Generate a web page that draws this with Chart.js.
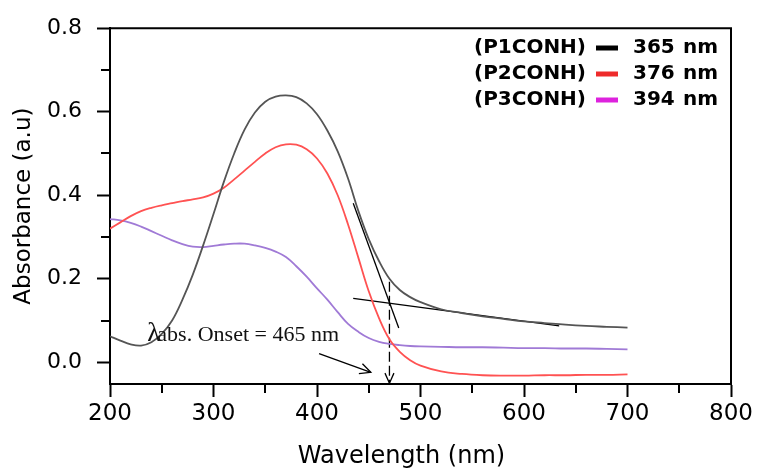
<!DOCTYPE html>
<html>
<head>
<meta charset="utf-8">
<script src="https://cdn.jsdelivr.net/npm/chart.js@4.4.1/dist/chart.umd.min.js"></script>
<style>
  html, body { margin: 0; padding: 0; background: #fff; }
  #c { display: block; }
</style>
</head>
<body>
<canvas id="c" width="758" height="468"></canvas>
<script>
// ---- data ----
const wavelengths = [200,210,220,230,240,250,260,270,280,290,300,310,320,330,340,350,360,370,380,390,400,410,420,430,440,450,460,470,480,490,500,520,540,560,580,600,620,640,660,680,700];
const p1conh = [0.062,0.052,0.043,0.040,0.048,0.068,0.100,0.150,0.210,0.280,0.355,0.432,0.500,0.557,0.598,0.624,0.636,0.639,0.635,0.620,0.594,0.555,0.505,0.440,0.362,0.295,0.242,0.200,0.173,0.156,0.144,0.127,0.118,0.110,0.104,0.098,0.094,0.090,0.087,0.085,0.083];
const p2conh = [0.320,0.335,0.350,0.362,0.370,0.376,0.381,0.386,0.390,0.395,0.404,0.418,0.438,0.459,0.480,0.500,0.515,0.522,0.521,0.510,0.488,0.452,0.400,0.330,0.250,0.170,0.105,0.055,0.025,0.005,-0.008,-0.022,-0.028,-0.031,-0.032,-0.032,-0.031,-0.031,-0.030,-0.030,-0.029];
const p3conh = [0.343,0.340,0.334,0.325,0.314,0.303,0.292,0.283,0.277,0.276,0.279,0.282,0.284,0.284,0.280,0.274,0.265,0.252,0.230,0.205,0.177,0.150,0.120,0.092,0.073,0.058,0.049,0.044,0.041,0.039,0.038,0.037,0.036,0.036,0.035,0.034,0.034,0.033,0.033,0.032,0.031];

const seriesNames = ['(P1CONH)', '(P2CONH)', '(P3CONH)'];
const peakLabels = ['365', '376', '394'];
const xTickValues = [200,300,400,500,600,700,800];
const xMinorValues = [250,350,450,550,650,750];
const yTickValues = [0.0,0.2,0.4,0.6,0.8];
const yMinorValues = [0.1,0.3,0.5,0.7];
const xTitle = 'Wavelength (nm)';
const yTitle = 'Absorbance (a.u)';

// onset construction (data units)
const tangentSteep = [{x:435,y:0.381},{x:479,y:0.082}];
const tangentBase  = [{x:435,y:0.153},{x:634,y:0.087}];
const onsetDrop    = [{x:470,y:0.193},{x:470,y:-0.05}];
const textArrow    = [{x:402,y:0.021},{x:452,y:-0.024}];
const onsetLabelPos = {x:236, y:0.052};
const onsetLabel = 'abs. Onset = 465 nm';

// ---- chart ----
const toXY = (xs, ys) => xs.map((x, i) => ({x, y: ys[i]}));

Chart.defaults.font.family = 'DejaVu Sans';
Chart.defaults.color = '#000';

const bgPlugin = {
  id: 'bg',
  beforeDraw(chart) {
    const ctx = chart.ctx;
    ctx.save();
    ctx.fillStyle = '#fff';
    ctx.fillRect(0, 0, chart.width, chart.height);
    ctx.restore();
  }
};

function arrowHead(ctx, tipX, tipY, fromX, fromY, len, spread) {
  const a = Math.atan2(tipY - fromY, tipX - fromX);
  ctx.beginPath();
  ctx.moveTo(tipX - len * Math.cos(a - spread), tipY - len * Math.sin(a - spread));
  ctx.lineTo(tipX, tipY);
  ctx.lineTo(tipX - len * Math.cos(a + spread), tipY - len * Math.sin(a + spread));
  ctx.stroke();
}

const decoPlugin = {
  id: 'deco',
  afterDraw(chart) {
    const {ctx, chartArea: ca, scales: {x, y}} = chart;
    ctx.save();
    ctx.strokeStyle = '#000';
    ctx.lineWidth = 2;
    // top and right frame
    ctx.beginPath();
    ctx.moveTo(ca.left, ca.top);
    ctx.lineTo(ca.right + 1, ca.top);
    ctx.moveTo(ca.right, ca.top);
    ctx.lineTo(ca.right, ca.bottom);
    ctx.stroke();
    // minor ticks
    ctx.beginPath();
    xMinorValues.forEach(v => {
      const px = Math.round(x.getPixelForValue(v));
      ctx.moveTo(px, ca.bottom);
      ctx.lineTo(px, ca.bottom + 9);
    });
    yMinorValues.forEach(v => {
      const py = Math.round(y.getPixelForValue(v));
      ctx.moveTo(ca.left, py);
      ctx.lineTo(ca.left - 9, py);
    });
    ctx.stroke();

    // x axis title (sits a little left of centre in the reference)
    ctx.fillStyle = '#000';
    ctx.font = '24px "DejaVu Sans"';
    ctx.textAlign = 'center';
    ctx.textBaseline = 'alphabetic';
    ctx.fillText(xTitle, (ca.left + ca.right) / 2 - 19, 463);

    // arrow heads
    ctx.lineWidth = 1.3;
    const dTip = onsetDrop[1], dFrom = onsetDrop[0];
    arrowHead(ctx, x.getPixelForValue(dTip.x), y.getPixelForValue(dTip.y),
              x.getPixelForValue(dFrom.x), y.getPixelForValue(dFrom.y), 11, 0.42);
    const aTip = textArrow[1], aFrom = textArrow[0];
    arrowHead(ctx, x.getPixelForValue(aTip.x), y.getPixelForValue(aTip.y),
              x.getPixelForValue(aFrom.x), y.getPixelForValue(aFrom.y), 12, 0.45);

    // onset label
    const lx = x.getPixelForValue(onsetLabelPos.x), ly = y.getPixelForValue(onsetLabelPos.y);
    ctx.fillStyle = '#111';
    ctx.textAlign = 'left';
    ctx.font = '27px "Liberation Serif"';
    ctx.fillText('λ', lx, ly);
    const lw = ctx.measureText('λ').width;
    ctx.font = '22px "Liberation Serif"';
    ctx.fillText(onsetLabel, lx + lw - 3, ly);

    // legend box
    const legendColors = ['#000000', '#ee2b2b', '#dd22dd'];
    const rows = [48, 74, 100];
    ctx.font = 'bold 20px "DejaVu Sans"';
    ctx.textBaseline = 'middle';
    seriesNames.forEach((name, i) => {
      const ry = rows[i];
      ctx.fillStyle = '#000';
      ctx.textAlign = 'right';
      ctx.fillText(name, 586, ry);
      ctx.strokeStyle = legendColors[i];
      ctx.lineWidth = 5;
      ctx.beginPath();
      ctx.moveTo(596, ry);
      ctx.lineTo(618, ry);
      ctx.stroke();
      ctx.textAlign = 'left';
      ctx.fillText(peakLabels[i], 633, ry);
      ctx.fillText('nm', 683, ry);
    });
    ctx.restore();
  }
};

const lineDs = (label, data, color, width) => ({
  label, data, borderColor: color, borderWidth: width, pointRadius: 0,
  tension: 0.4, fill: false
});
const annDs = (data, width, dash) => ({
  data, borderColor: '#000', borderWidth: width, pointRadius: 0,
  borderDash: dash || [], fill: false, tension: 0
});

new Chart(document.getElementById('c'), {
  type: 'line',
  data: {
    datasets: [
      lineDs('P1CONH', toXY(wavelengths, p1conh), '#555555', 1.8),
      lineDs('P2CONH', toXY(wavelengths, p2conh), '#ff5252', 1.8),
      lineDs('P3CONH', toXY(wavelengths, p3conh), '#a07ad6', 1.8),
      annDs(tangentSteep, 1.3),
      annDs(tangentBase, 1.3),
      annDs(onsetDrop, 1.3, [10, 4]),
      annDs(textArrow, 1.3)
    ]
  },
  options: {
    responsive: false,
    animation: false,
    events: [],
    layout: { padding: { top: 22, right: 27, left: 0, bottom: 0 } },
    plugins: { legend: { display: false }, tooltip: { enabled: false } },
    scales: {
      x: {
        type: 'linear', min: 200, max: 800,
        afterFit: s => { s.height = 84; },
        afterBuildTicks: s => { s.ticks = xTickValues.map(v => ({value: v})); },
        border: { display: true, color: '#000', width: 2 },
        grid: { drawOnChartArea: false, drawTicks: true, tickLength: 13, tickColor: '#000', tickWidth: 2 },
        ticks: { font: { size: 23 }, color: '#000', padding: 3, maxRotation: 0,
                 callback: v => String(v) },
        title: { display: false }
      },
      y: {
        type: 'linear', min: -0.052, max: 0.8,
        afterFit: s => { s.width = 110; },
        afterBuildTicks: s => { s.ticks = yTickValues.map(v => ({value: v})); },
        border: { display: true, color: '#000', width: 2 },
        grid: { drawOnChartArea: false, drawTicks: true, tickLength: 13, tickColor: '#000', tickWidth: 2 },
        ticks: { font: { size: 22 }, color: '#000', padding: 15,
                 callback: v => Number(v).toFixed(1) },
        title: { display: true, text: yTitle, font: { size: 23 }, color: '#000',
                 padding: { top: 10, bottom: 0 } }
      }
    }
  },
  plugins: [bgPlugin, decoPlugin]
});
</script>
</body>
</html>
